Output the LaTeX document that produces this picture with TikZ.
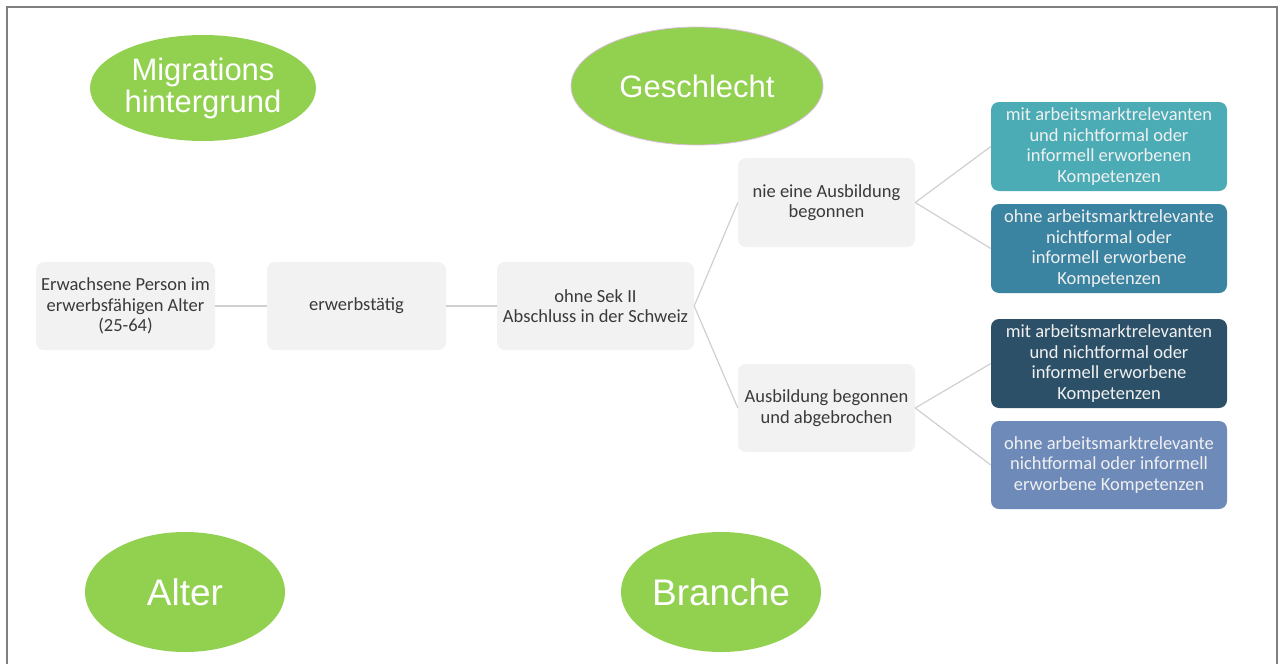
\documentclass[tikz,border=0pt]{standalone}
\usepackage{fontspec}
\setmainfont{Carlito}
\newfontfamily\headfont{Liberation Sans}
\usetikzlibrary{shapes.geometric}
\definecolor{ellgreen}{HTML}{92D050}
\definecolor{boxgrey}{HTML}{F2F2F2}
\definecolor{txtgrey}{HTML}{3A3A3A}
\definecolor{linegrey}{HTML}{D0D0D0}
\definecolor{framegrey}{HTML}{7F7F7F}
\definecolor{tealA}{HTML}{4BACB6}
\definecolor{tealB}{HTML}{3A83A1}
\definecolor{navyC}{HTML}{2C5068}
\definecolor{blueD}{HTML}{6E8AB9}
\tikzset{
  factor/.style={ellipse, fill=ellgreen, text=white, inner sep=0pt, align=center},
  greybox/.style={rectangle, rounded corners=8pt, fill=boxgrey, text=txtgrey, inner sep=0pt, align=center,
    font=\fontsize{18.5}{20.5}\selectfont},
  leafbox/.style={rectangle, rounded corners=8pt, text=white!94!black, inner sep=0pt, align=center,
    minimum width=236pt, minimum height=89pt, font=\fontsize{18.5}{20.5}\selectfont},
  link/.style={draw=linegrey, line width=1.2pt}
}
\begin{document}
\begin{tikzpicture}[x=1pt, y=-1pt]
\useasboundingbox (0,0) rectangle (1282,664);
\fill[white] (0,0) rectangle (1282,664);
% outer frame, open at the bottom
\draw[framegrey, line width=2pt] (6.5,664) -- (6.5,6.5) -- (1277,6.5) -- (1277,664);

% influencing factors
\node[factor, minimum width=226pt, minimum height=106pt, font=\headfont\fontsize{31}{32}\selectfont]
  (migr) at (203,88) {Migrations\\hintergrund};
\node[factor, draw=violet!25, line width=0.8pt, minimum width=252pt, minimum height=118pt, font=\headfont\fontsize{31}{32}\selectfont]
  (geschl) at (697,86) {Geschlecht};
\node[factor, minimum width=200pt, minimum height=120pt, font=\headfont\fontsize{37}{38}\selectfont]
  (alter) at (185,592) {Alter};
\node[factor, minimum width=200pt, minimum height=120pt, font=\headfont\fontsize{37}{38}\selectfont]
  (branche) at (721,592) {Branche};

% main chain
\node[greybox, minimum width=179pt, minimum height=88pt] (person) at (125.5,306)
  {Erwachsene Person im\\erwerbsfähigen Alter\\(25-64)};
\node[greybox, minimum width=179pt, minimum height=88pt] (erw) at (356.5,306) {erwerbstätig};
\node[greybox, minimum width=197pt, minimum height=88pt] (sek) at (595.5,306)
  {ohne Sek II\\Abschluss in der Schweiz};
\node[greybox, minimum width=177pt, minimum height=89pt] (nie) at (826.5,202.5)
  {nie eine Ausbildung\\begonnen};
\node[greybox, minimum width=177pt, minimum height=88pt] (abg) at (826.5,408)
  {Ausbildung begonnen\\und abgebrochen};

% outcome boxes
\node[leafbox, fill=tealA] (l1) at (1109,146.5)
  {mit arbeitsmarktrelevanten\\und nichtformal oder\\informell erworbenen\\Kompetenzen};
\node[leafbox, fill=tealB] (l2) at (1109,248.5)
  {ohne arbeitsmarktrelevante\\nichtformal oder\\informell erworbene\\Kompetenzen};
\node[leafbox, fill=navyC] (l3) at (1109,363.5)
  {mit arbeitsmarktrelevanten\\und nichtformal oder\\informell erworbene\\Kompetenzen};
\node[leafbox, fill=blueD, minimum height=88pt] (l4) at (1109,465)
  {ohne arbeitsmarktrelevante\\nichtformal oder informell\\erworbene Kompetenzen};

% connectors
\draw[link] (person.east) -- (erw.west);
\draw[link] (erw.east) -- (sek.west);
\draw[link] (sek.east) -- (nie.west);
\draw[link] (sek.east) -- (abg.west);
\draw[link] (nie.east) -- (l1.west);
\draw[link] (nie.east) -- (l2.west);
\draw[link] (abg.east) -- (l3.west);
\draw[link] (abg.east) -- (l4.west);
\end{tikzpicture}
\end{document}
